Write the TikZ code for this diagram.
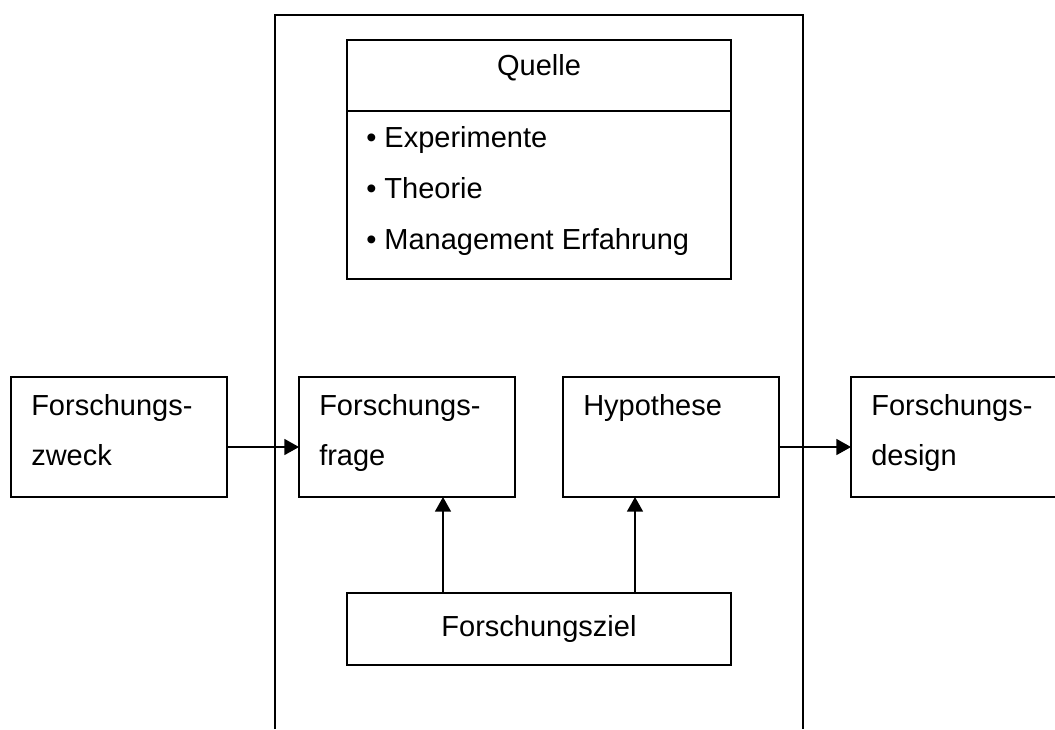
\documentclass[tikz,border=0pt]{standalone}
\usepackage{fontspec}
\setmainfont{Liberation Sans}
\usetikzlibrary{positioning, arrows.meta}

\begin{document}
\begin{tikzpicture}[
  x = 0.75pt, y = -0.75pt,
  box/.style = {
    draw,
    line width = 1.3pt,
    minimum width = 162pt,
    minimum height = 90pt,
    inner sep = 0pt,
    outer sep = 0pt
  },
  txt/.style = {
    anchor = base west,
    inner sep = 0pt,
    font = \fontsize{21.75}{26}\selectfont
  },
  connection/.style = {
    -{Triangle[length = 11pt, width = 12pt]},
    line width = 1.2pt
  },
  ]
  \useasboundingbox (0, 0) rectangle (1055, 729);
  \clip (0, 0) rectangle (1055, 729);

  % Outer frame, open at the bottom.
  \draw[line width = 1.5pt] (275, 729) -- (275, 15) -- (803, 15) -- (803, 729);

  % Box with the sources.
  \node[box, minimum width = 288pt, minimum height = 179.25pt] (quelle) at (539, 159.5) {};
  \draw[line width = 1.3pt] ([yshift = -53.25pt]quelle.north west)
    -- ([yshift = -53.25pt]quelle.north east);
  \node[txt, anchor = base] (quelle-t) at (539, 75) {Quelle};
  \foreach \name/\entry [count = \i] in {exp/Experimente, theo/Theorie, mgmt/Management Erfahrung} {
    \node[txt] (quelle-\name) at (366, 96 + 51*\i) {• \entry};
  }

  % Row of boxes.
  \foreach \name/\x in {zweck/119, frage/407, hypo/671, design/959} {
    \node[box] (\name) at (\x, 437) {};
  }
  \node[txt] (zweck-1) at ([shift = {(20, 38)}]zweck.north west) {Forschungs-};
  \node[txt] (zweck-2) at ([shift = {(0, 50)}]zweck-1.base west) {zweck};
  \node[txt] (frage-1) at ([shift = {(20, 38)}]frage.north west) {Forschungs-};
  \node[txt] (frage-2) at ([shift = {(0, 50)}]frage-1.base west) {frage};
  \node[txt] (hypo-1) at ([shift = {(20, 38)}]hypo.north west) {Hypothese};
  \node[txt] (design-1) at ([shift = {(20, 38)}]design.north west) {Forschungs-};
  \node[txt] (design-2) at ([shift = {(0, 50)}]design-1.base west) {design};

  % Goal box.
  \node[box, minimum width = 288pt, minimum height = 54pt,
    font = \fontsize{21.75}{26}\selectfont] (ziel) at (539, 629) {Forschungsziel};

  % Connections.
  \draw[connection] ([yshift = -7.5pt]zweck.east) -- ([yshift = -7.5pt]frage.west);
  \draw[connection] ([yshift = -7.5pt]hypo.east) -- ([yshift = -7.5pt]design.west);
  \coordinate (ziel-l) at ([xshift = 72pt]ziel.north west);
  \coordinate (ziel-r) at ([xshift = -72pt]ziel.north east);
  \draw[connection] (ziel-l) -- (ziel-l |- frage.south);
  \draw[connection] (ziel-r) -- (ziel-r |- hypo.south);
\end{tikzpicture}
\end{document}
